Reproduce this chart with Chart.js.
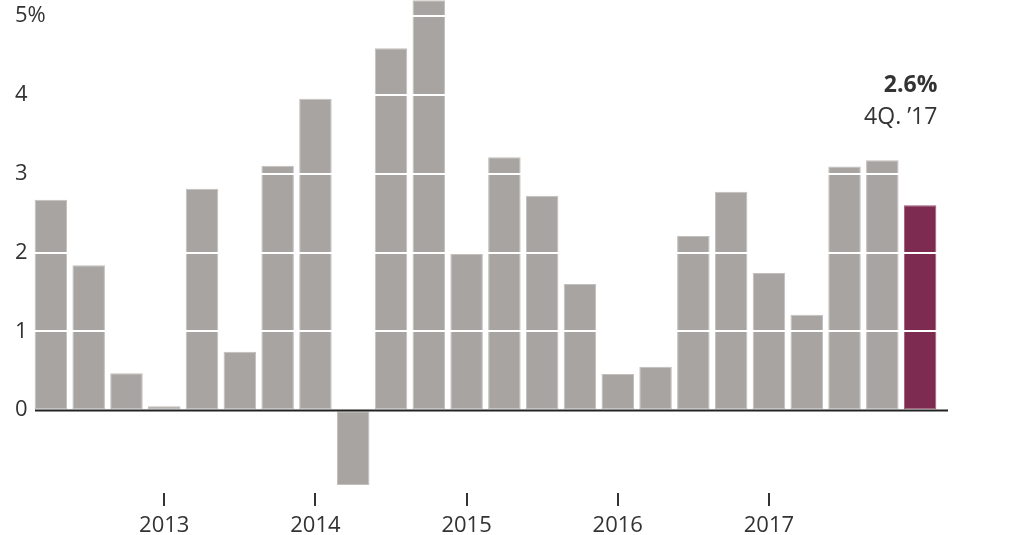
<!DOCTYPE html>
<html>
<head>
<meta charset="utf-8">
<script src="https://cdn.jsdelivr.net/npm/chart.js@4/dist/chart.umd.min.js"></script>
<style>
  html, body { margin: 0; padding: 0; background: #fff; }
  #wrap { width: 1024px; height: 535px; position: relative; }
</style>
</head>
<body>
<div id="wrap"><canvas id="grafico"></canvas></div>
<script>
// Trimestres, de 1Q 2012 a 4Q 2017
const trimestres = [
  '1Q 12', '2Q 12', '3Q 12', '4Q 12',
  '1Q 13', '2Q 13', '3Q 13', '4Q 13',
  '1Q 14', '2Q 14', '3Q 14', '4Q 14',
  '1Q 15', '2Q 15', '3Q 15', '4Q 15',
  '1Q 16', '2Q 16', '3Q 16', '4Q 16',
  '1Q 17', '2Q 17', '3Q 17', '4Q 17'
];
// Crecimiento (%) por trimestre
const valores = [
  2.67, 1.84, 0.47, 0.05,
  2.81, 0.74, 3.1, 3.95,
  -0.95, 4.59, 5.2, 1.98,
  3.21, 2.72, 1.6, 0.46,
  0.55, 2.21, 2.77, 1.74,
  1.21, 3.09, 3.17, 2.6
];
// Marcas del eje X (indice del trimestre -> año)
const indicesAnio = [3, 7, 11, 15, 19];
const etiquetasAnio = ['2013', '2014', '2015', '2016', '2017'];
// Eje Y
const valoresY = [0, 1, 2, 3, 4, 5];
const etiquetasY = ['0', '1', '2', '3', '4', '5%'];
const notaUltimo = '4Q. \u201917';

const GRIS = '#a8a4a1';
const MORADO = '#7d2b51';
const TEXTO = '#333333';
const FUENTE = '"Open Sans", "Noto Sans", sans-serif';

// Linea del cero, un poco mas larga que el area del grafico
const lineaCero = {
  id: 'lineaCero',
  afterDatasetsDraw(chart) {
    const { ctx, chartArea, scales } = chart;
    const y = Math.round(scales.y.getPixelForValue(0)) + 0.5;
    ctx.save();
    ctx.strokeStyle = '#222';
    ctx.lineWidth = 2;
    ctx.beginPath();
    ctx.moveTo(chartArea.left + 3, y);
    ctx.lineTo(chartArea.right + 9, y);
    ctx.stroke();
    ctx.restore();
  }
};

// Nota del ultimo trimestre
const notaFinal = {
  id: 'notaFinal',
  afterDraw(chart) {
    const { ctx } = chart;
    const meta = chart.getDatasetMeta(0);
    const barra = meta.data[meta.data.length - 1];
    const x = barra.x + barra.width / 2 + 1;
    ctx.save();
    ctx.fillStyle = TEXTO;
    ctx.textAlign = 'right';
    ctx.textBaseline = 'middle';
    ctx.font = 'bold 23px ' + FUENTE;
    ctx.fillText(valores[valores.length - 1].toFixed(1) + '%', x, 85);
    ctx.font = '23px ' + FUENTE;
    ctx.fillText(notaUltimo, x, 117);
    ctx.restore();
  }
};

new Chart(document.getElementById('grafico'), {
  type: 'bar',
  data: {
    labels: trimestres,
    datasets: [{
      data: valores,
      backgroundColor: valores.map((v, i) => i === valores.length - 1 ? MORADO : GRIS),
      borderColor: valores.map((v, i) => i === valores.length - 1 ? '#9a5a77' : '#c2bfbc'),
      borderWidth: 1,
      borderSkipped: false,
      categoryPercentage: 1,
      barPercentage: 0.86,
      clip: false
    }]
  },
  options: {
    responsive: true,
    maintainAspectRatio: false,
    animation: false,
    events: [],
    layout: { padding: { left: 15, right: 85, top: 16, bottom: 0 } },
    plugins: {
      legend: { display: false },
      tooltip: { enabled: false }
    },
    scales: {
      x: {
        afterFit: (scale) => { scale.height = 42; },
        border: { display: false },
        grid: {
          offset: false,
          drawOnChartArea: false,
          drawTicks: true,
          tickLength: 13,
          lineWidth: 2,
          color: (c) => indicesAnio.includes(c.index) ? TEXTO : 'rgba(0,0,0,0)'
        },
        ticks: {
          autoSkip: false,
          maxRotation: 0,
          padding: 7,
          color: TEXTO,
          font: { family: FUENTE, size: 22 },
          callback: (v, i) => {
            const k = indicesAnio.indexOf(i);
            return k >= 0 ? etiquetasAnio[k] : '';
          }
        }
      },
      y: {
        min: -1.05,
        max: 5,
        afterFit: (scale) => { scale.width = 17; },
        afterBuildTicks: (scale) => { scale.ticks = valoresY.map(v => ({ value: v })); },
        border: { display: false },
        grid: {
          z: 1,
          lineWidth: 2,
          drawTicks: false,
          color: (c) => c.tick && c.tick.value === 0 ? 'rgba(0,0,0,0)' : '#ffffff'
        },
        ticks: {
          z: 2,
          mirror: true,
          padding: -17,
          color: TEXTO,
          font: { family: FUENTE, size: 22 },
          callback: (v) => {
            const k = valoresY.indexOf(v);
            return k >= 0 ? etiquetasY[k] : '';
          }
        }
      }
    }
  },
  plugins: [lineaCero, notaFinal]
});
</script>
</body>
</html>
